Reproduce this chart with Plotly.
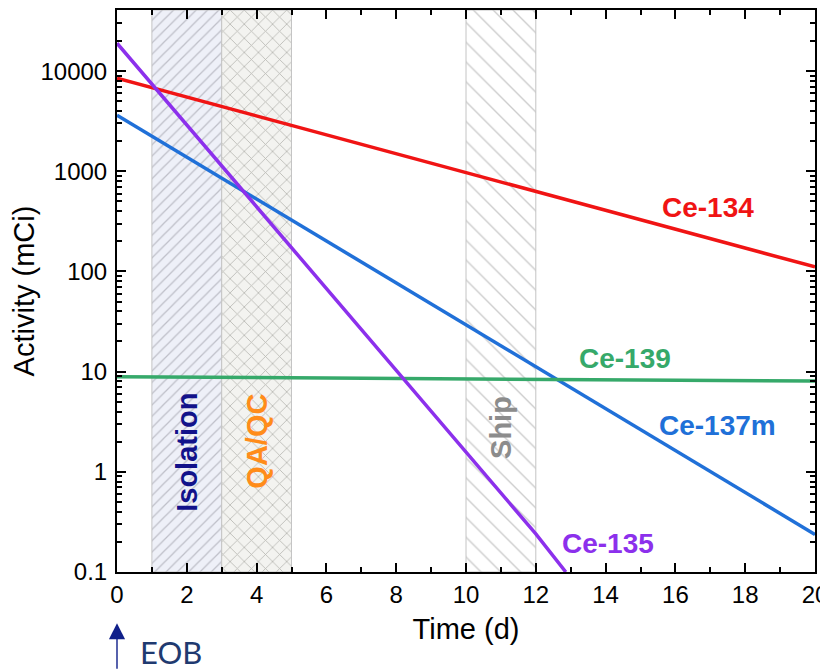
import plotly.graph_objects as go

# ---- data ----
time_d = [0, 4, 8, 12, 16, 20]
ce134 = [8500, 3570, 1500, 630, 264, 111]
ce137m = [3630, 528, 77, 11.2, 1.63, 0.237]
ce139 = [8.9, 8.72, 8.54, 8.37, 8.2, 8.05]
ce135_time = [0, 4, 8, 12, 12.86]
ce135 = [19000, 440, 10.3, 0.24, 0.1]

band_names = ["Isolation", "QA/QC", "Ship"]
band_start = [1, 3, 10]
band_end = [3, 5, 12]

y_tickvals = [0.1, 1, 10, 100, 1000, 10000]
y_ticktext = ["0.1", "1", "10", "100", "1000", "10000"]
x_tickvals = [0, 2, 4, 6, 8, 10, 12, 14, 16, 18, 20]

X_RANGE = [0, 20]
Y_RANGE_LOG = [-1, 4.61]

FONT = "Liberation Sans, Arial, sans-serif"

fig = go.Figure()

# ---- hatched bands ----
band_styles = [
    dict(shape="/", bgcolor="#eef0f8", fgcolor="#8e8e98", size=8, solidity=0.16),
    dict(shape="x", bgcolor="#f3f3f0", fgcolor="#7e7e76", size=10, solidity=0.16),
    dict(shape="\\", bgcolor="rgba(255,255,255,0)", fgcolor="#999999", size=14, solidity=0.1),
]
y_lo = 10 ** Y_RANGE_LOG[0]
y_hi = 10 ** Y_RANGE_LOG[1]
for name, s, e, st in zip(band_names, band_start, band_end, band_styles):
    fig.add_trace(go.Scatter(
        x=[s, e, e, s, s], y=[y_lo, y_lo, y_hi, y_hi, y_lo],
        mode="lines", fill="toself",
        line=dict(color="#c4c4c4", width=1),
        fillcolor=st["bgcolor"],
        fillpattern=st,
        hoverinfo="skip", showlegend=False, name=name,
    ))

# ---- decay curves ----
series = [
    ("Ce-134", time_d, ce134, "#f01414"),
    ("Ce-137m", time_d, ce137m, "#2070d8"),
    ("Ce-139", time_d, ce139, "#36a96a"),
    ("Ce-135", ce135_time, ce135, "#8c30ec"),
]
for name, xs, ys, col in series:
    fig.add_trace(go.Scatter(x=xs, y=ys, mode="lines", name=name,
                             line=dict(color=col, width=3.5), showlegend=False))

# ---- series labels ----
labels = [
    ("Ce-134", 16.93, 2.643, "#f01414"),
    ("Ce-139", 14.56, 1.136, "#36a96a"),
    ("Ce-137m", 17.22, 0.467, "#2070d8"),
    ("Ce-135", 14.07, -0.711, "#8c30ec"),
]
for txt, x, ly, col in labels:
    fig.add_annotation(x=x, y=ly, xref="x", yref="y", text="<b>%s</b>" % txt,
                       showarrow=False, font=dict(family=FONT, size=28, color=col))

# ---- band labels (rotated) ----
band_label_pos = [(2.0, 0.198, "#12128a"), (4.0, 0.307, "#ff8c1a"), (11.0, 0.447, "#8c8c8c")]
for name, (x, ly, col) in zip(band_names, band_label_pos):
    fig.add_annotation(x=x, y=ly, xref="x", yref="y", text="<b>%s</b>" % name,
                       textangle=-90, showarrow=False,
                       font=dict(family=FONT, size=29, color=col))

# ---- EOB arrow ----
fig.add_annotation(x=0, y=-0.091, xref="x", yref="paper", text="",
                   showarrow=True, ax=0, ay=47, arrowhead=2, arrowsize=2.3,
                   arrowwidth=1.4, arrowcolor="#10208a")
fig.add_annotation(x=0.6, y=-0.142, xref="x", yref="paper", text="EOB",
                   showarrow=False, xanchor="left", yanchor="middle",
                   font=dict(family="Lato, Open Sans, sans-serif", size=31, color="#1f3a70"))

fig.update_xaxes(
    range=X_RANGE, tickvals=x_tickvals, ticks="inside", ticklen=9, tickwidth=1.5,
    tickcolor="black", showline=True, linewidth=2, linecolor="black",
    mirror="allticks", showgrid=False, zeroline=False, automargin=False,
    minor=dict(dtick=1, ticks="inside", ticklen=5, tickwidth=1.5, tickcolor="black", showgrid=False),
    tickfont=dict(family=FONT, size=24, color="black"),
    title=dict(text="Time (d)", font=dict(family=FONT, size=29, color="black"), standoff=12),
)
fig.update_yaxes(
    type="log", range=Y_RANGE_LOG, tickvals=y_tickvals, ticktext=y_ticktext,
    ticks="inside", ticklen=9, tickwidth=1.5, tickcolor="black",
    showline=True, linewidth=2, linecolor="black", mirror="allticks",
    showgrid=False, zeroline=False, automargin=False, ticklabelstandoff=3,
    minor=dict(dtick="D1", ticks="inside", ticklen=5, tickwidth=1.5, tickcolor="black", showgrid=False),
    tickfont=dict(family=FONT, size=24, color="black"),
    title=dict(text="Activity (mCi)", font=dict(family=FONT, size=29, color="black"), standoff=3),
)
# the page body adds an 8 px margin, so margins are offset to place the plot area
fig.update_layout(
    width=828, height=672,
    margin=dict(l=109, r=21, t=2, b=108),
    plot_bgcolor="white", paper_bgcolor="white",
    hovermode=False,
)
fig.write_html("out.html")
